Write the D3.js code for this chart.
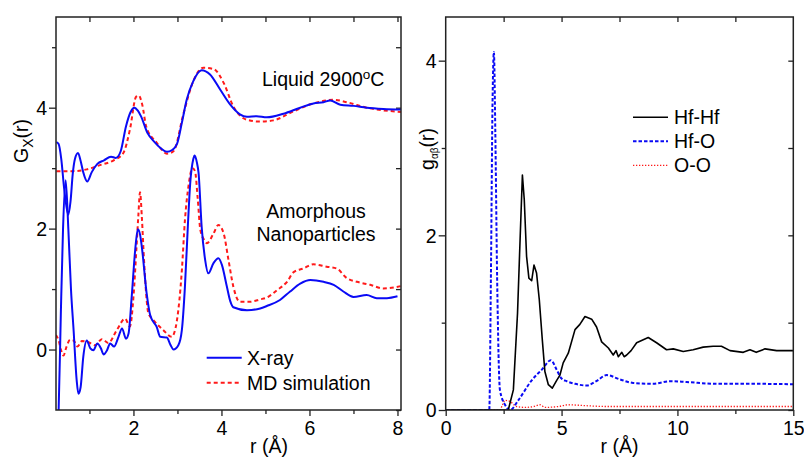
<!DOCTYPE html>
<html><head><meta charset="utf-8">
<script src="https://cdn.jsdelivr.net/npm/d3@7"></script>
<style>body{margin:0;background:#fff}svg{display:block;font-family:"Liberation Sans",Arial,sans-serif}</style>
</head><body><svg id="c" width="804" height="459"></svg>
<script>
// ---------- Left panel data: r (Å) and G_X(r) (plotted values incl. offset) ----------
const liqXrayR=[0.25,0.30,0.36,0.42,0.47,0.52,0.57,0.62,0.67,0.74,0.80,0.86,0.95,1.05,1.18,1.33,1.49,1.60,1.71,1.83,1.93,2.02,2.10,2.17,2.32,2.47,2.62,2.76,2.88,2.99,3.10,3.21,3.36,3.55,3.74,3.97,4.20,4.42,4.58,4.80,5.03,5.41,5.79,6.09,6.32,6.47,6.70,7.00,7.30,7.68,8.08];
const liqXrayG=[3.43,3.40,3.15,2.70,2.40,2.23,2.45,2.90,3.15,3.25,3.12,2.93,2.78,2.93,3.07,3.13,3.19,3.17,3.28,3.69,3.92,4.00,3.95,3.86,3.58,3.44,3.33,3.27,3.30,3.40,3.75,4.13,4.44,4.62,4.55,4.30,4.05,3.89,3.85,3.86,3.84,3.90,4.00,4.07,4.09,4.12,4.05,4.03,4.00,3.98,3.97];
const liqMDR=[0.25,0.60,0.94,1.24,1.55,1.77,1.92,2.06,2.12,2.20,2.29,2.53,2.76,2.91,3.14,3.36,3.59,3.82,4.05,4.27,4.58,4.88,5.18,5.64,6.09,6.55,6.85,7.30,8.08];
const liqMDG=[2.95,2.95,2.98,3.05,3.13,3.25,3.64,4.18,4.20,4.05,3.69,3.42,3.24,3.28,3.91,4.44,4.66,4.64,4.41,4.02,3.80,3.77,3.79,3.94,4.07,4.13,4.09,4.00,3.93];
const nanoXrayR=[0.28,0.30,0.35,0.40,0.46,0.52,0.58,0.64,0.71,0.75,0.80,0.86,0.94,1.02,1.09,1.18,1.26,1.32,1.40,1.47,1.56,1.66,1.74,1.83,1.89,1.96,2.04,2.10,2.15,2.19,2.30,2.38,2.53,2.61,2.76,2.84,2.91,3.02,3.10,3.17,3.24,3.29,3.36,3.39,3.44,3.48,3.55,3.63,3.70,3.82,3.93,4.01,4.12,4.20,4.27,4.58,4.88,5.03,5.33,5.56,5.79,6.02,6.32,6.55,6.77,7.00,7.30,7.53,7.76,8.00];
const nanoXrayG=[-1.3,-1.0,0.6,2.0,2.8,2.0,1.0,0.32,-0.51,-0.73,-0.62,-0.12,0.15,0.02,-0.01,0.10,0.02,-0.08,-0.01,0.10,0.05,0.21,0.35,0.18,0.27,0.87,1.65,1.99,1.90,1.70,0.93,0.57,0.37,0.21,0.20,0.08,0.00,0.07,0.32,1.04,2.10,2.75,3.15,3.21,3.10,2.92,2.03,1.48,1.26,1.43,1.51,1.40,1.05,0.80,0.70,0.65,0.68,0.72,0.82,0.96,1.09,1.15,1.12,1.07,0.96,0.87,0.90,0.85,0.85,0.88];
const nanoMDR=[0.24,0.30,0.36,0.41,0.48,0.56,0.64,0.73,0.83,0.98,1.13,1.28,1.43,1.62,1.81,1.92,2.00,2.07,2.11,2.15,2.19,2.24,2.34,2.45,2.68,2.87,2.99,3.10,3.17,3.25,3.34,3.40,3.46,3.52,3.61,3.67,3.82,3.93,4.05,4.16,4.27,4.42,4.65,4.88,5.03,5.26,5.49,5.64,5.86,6.09,6.39,6.62,6.85,7.08,7.38,7.68,8.08];
const nanoMDG=[0.24,0.15,-0.02,-0.10,0.05,0.16,0.15,0.05,0.14,0.12,0.07,0.17,0.11,0.32,0.51,0.38,0.87,1.70,2.20,2.60,2.20,1.48,0.60,0.49,0.32,0.21,0.49,1.31,2.14,2.70,3.00,2.95,2.50,1.98,1.81,1.76,1.92,2.06,1.92,1.48,1.04,0.79,0.79,0.83,0.86,0.98,1.12,1.28,1.34,1.41,1.37,1.34,1.18,1.12,1.07,1.01,1.05];
// ---------- Right panel data: partial pair distribution functions ----------
const hfhfR=[0,2.70,2.92,3.10,3.21,3.31,3.39,3.49,3.59,3.71,3.81,3.92,4.04,4.17,4.28,4.43,4.60,4.79,4.93,5.07,5.29,5.58,5.79,6.01,6.30,6.51,6.73,7.02,7.23,7.35,7.45,7.60,7.70,7.81,8.00,8.24,8.74,9.10,9.53,9.82,10.25,10.68,11.11,11.54,11.90,12.27,12.84,13.13,13.40,13.78,14.28,15.0];
const hfhfG=[0,0,0.23,1.11,1.95,2.69,2.41,1.76,1.51,1.48,1.66,1.57,1.26,0.80,0.44,0.29,0.25,0.34,0.40,0.54,0.65,0.92,0.98,1.07,1.04,0.95,0.78,0.71,0.63,0.68,0.61,0.66,0.61,0.63,0.68,0.77,0.83,0.77,0.69,0.70,0.67,0.69,0.72,0.73,0.73,0.68,0.66,0.69,0.66,0.70,0.68,0.68];
const hfoR=[0,1.88,1.95,2.02,2.08,2.14,2.22,2.34,2.56,2.78,3.13,3.71,4.14,4.54,4.79,5.00,5.22,5.58,6.08,6.50,6.95,7.52,8.09,8.96,9.68,10.4,11.7,13.2,15.0];
const hfoG=[0,0,1.5,3.5,4.10,3.2,1.5,0.23,0.06,0.0,0.11,0.34,0.46,0.57,0.46,0.36,0.33,0.30,0.28,0.33,0.40,0.35,0.31,0.30,0.33,0.32,0.30,0.30,0.295];
const ooR=[0,2.34,2.45,2.56,2.77,2.90,3.06,3.42,3.80,4.07,4.28,4.86,5.29,6.0,7.0,9.0,15.0];
const ooG=[0,0,0.06,0.11,0.10,0.07,0.04,0.03,0.04,0.06,0.03,0.04,0.06,0.05,0.04,0.04,0.04];
// ---------- ticks ----------
const lxMajor=[2,4,6,8], lxMinor=[1,3,5,7], lxTop=[1,2,3,4,5,6,7,8];
const lyMajor=[0,2,4], lyMinor=[1,3,5], lyRight=[-1,0,1,2,3,4,5];
const rxMajor=[0,5,10,15], rxMinor=[2.5,7.5,12.5], rxTop=[2.5,5,7.5,10,12.5];
const ryMajor=[0,2,4], ryMinor=[1,3], ryRight=[0,1,2,3,4];

const svg=d3.select("#c");
const FONT=19.5;
const BLUE="#0a0af5", RED="#ff1a1a";

function panel(cfg){
  const {x,y,id}=cfg;
  const [x0,x1]=x.range(), [y0,y1]=y.range();
  svg.append("clipPath").attr("id",id).append("rect").attr("x",x0).attr("y",y1).attr("width",x1-x0).attr("height",y0-y1);
  const gb=svg.append("g").attr("transform",`translate(0,${y0})`);
  gb.call(d3.axisBottom(x).tickValues(cfg.xMajor).tickSize(6).tickFormat(d3.format("d")));
  const gbm=svg.append("g").attr("transform",`translate(0,${y0})`);
  gbm.call(d3.axisBottom(x).tickValues(cfg.xMinor).tickSize(4).tickFormat(""));
  const gt=svg.append("g").attr("transform",`translate(0,${y1})`);
  gt.call(d3.axisTop(x).tickValues(cfg.xTop).tickSize(-5).tickFormat(""));
  const gl=svg.append("g").attr("transform",`translate(${x0},0)`);
  gl.call(d3.axisLeft(y).tickValues(cfg.yMajor).tickSize(7).tickFormat(d3.format("d")));
  const glm=svg.append("g").attr("transform",`translate(${x0},0)`);
  glm.call(d3.axisLeft(y).tickValues(cfg.yMinor).tickSize(4).tickFormat(""));
  const gr=svg.append("g").attr("transform",`translate(${x1},0)`);
  gr.call(d3.axisRight(y).tickValues(cfg.yRight).tickSize(-5).tickFormat(""));
  [gb,gbm,gt,gl,glm,gr].forEach(g=>{
    g.select(".domain").remove();
    g.selectAll(".tick line").attr("stroke","#222").attr("stroke-width",1.3);
    g.selectAll("text").attr("font-size",FONT).attr("fill","#000").attr("font-family","'Liberation Sans',Arial,sans-serif");
  });
  gb.selectAll("text").attr("dy","0.9em").attr("y",7);
  gl.selectAll("text").attr("x",-9).attr("dy","0.35em");
  cfg.series.forEach(s=>{
    const pts=s.r.map((r,i)=>[r,s.g[i]]);
    svg.append("path").attr("clip-path",`url(#${id})`)
      .attr("d",d3.line().x(d=>x(d[0])).y(d=>y(d[1])).curve(s.curve||d3.curveMonotoneX)(pts))
      .attr("fill","none").attr("stroke",s.color).attr("stroke-width",s.w)
      .attr("stroke-dasharray",s.dash||null).attr("stroke-linejoin","round");
  });
  svg.append("rect").attr("x",x0).attr("y",y1).attr("width",x1-x0).attr("height",y0-y1)
    .attr("fill","none").attr("stroke","#222").attr("stroke-width",1.5);
}

const xL=d3.scaleLinear().domain([0.24,8.08]).range([56,401]);
const yL=d3.scaleLinear().domain([-1,5.5]).range([410,17]);
const xR=d3.scaleLinear().domain([0,15]).range([445.7,793.3]);
const yR=d3.scaleLinear().domain([0,4.5]).range([410,17]);

panel({id:"clipL",x:xL,y:yL,xMajor:lxMajor,xMinor:lxMinor,xTop:lxTop,yMajor:lyMajor,yMinor:lyMinor,yRight:lyRight,
  series:[
    {r:liqMDR,g:liqMDG,color:RED,w:2,dash:"4,3"},
    {r:liqXrayR,g:liqXrayG,color:BLUE,w:2},
    {r:nanoMDR,g:nanoMDG,color:RED,w:2,dash:"4,3"},
    {r:nanoXrayR,g:nanoXrayG,color:BLUE,w:2}
  ]});
panel({id:"clipR",x:xR,y:yR,xMajor:rxMajor,xMinor:rxMinor,xTop:rxTop,yMajor:ryMajor,yMinor:ryMinor,yRight:ryRight,
  series:[
    {r:ooR,g:ooG,color:RED,w:1.3,dash:"1.3,1.7"},
    {r:hfoR,g:hfoG,color:BLUE,w:2,dash:"3.5,2"},
    {r:hfhfR,g:hfhfG,color:"#000",w:1.6,curve:d3.curveLinear}
  ]});

function txt(x,y,s,opt={}){
  return svg.append("text").attr("x",x).attr("y",y).attr("font-size",opt.size||FONT)
    .attr("text-anchor",opt.anchor||"start").attr("fill","#000").text(s);
}
const liq=txt(262,86,"Liquid 2900");
liq.append("tspan").attr("dy",-7).attr("font-size",13.5).text("o");
liq.append("tspan").attr("dy",7).text("C");
txt(316,218,"Amorphous",{anchor:"middle"});
txt(316,241,"Nanoparticles",{anchor:"middle"});
const legL=[{t:"X-ray",c:BLUE,d:null},{t:"MD simulation",c:RED,d:"4,3"}];
legL.forEach((l,i)=>{
  const yy=357.7+i*25;
  svg.append("line").attr("x1",206.7).attr("x2",241.7).attr("y1",yy).attr("y2",yy)
    .attr("stroke",l.c).attr("stroke-width",2).attr("stroke-dasharray",l.d);
  txt(247,yy+7,l.t);
});
const legR=[{t:"Hf-Hf",c:"#000",d:null,w:1.6},{t:"Hf-O",c:BLUE,d:"3.5,2",w:2},{t:"O-O",c:RED,d:"1.3,1.7",w:1.3}];
legR.forEach((l,i)=>{
  const yy=117.3+i*24;
  svg.append("line").attr("x1",633).attr("x2",668).attr("y1",yy).attr("y2",yy)
    .attr("stroke",l.c).attr("stroke-width",l.w).attr("stroke-dasharray",l.d);
  txt(674,yy+7,l.t);
});
txt(269,453,"r (Å)",{anchor:"middle"});
txt(619.5,453,"r (Å)",{anchor:"middle"});
const gy=svg.append("text").attr("transform","translate(28,141) rotate(-90)").attr("text-anchor","middle").attr("font-size",FONT);
gy.append("tspan").text("G");
gy.append("tspan").attr("dy",5).attr("font-size",14).text("X");
gy.append("tspan").attr("dy",-5).text("(r)");
const gr2=svg.append("text").attr("transform","translate(434,149) rotate(-90)").attr("text-anchor","middle").attr("font-size",FONT);
gr2.append("tspan").text("g");
gr2.append("tspan").attr("dy",4).attr("font-size",10).text("αβ");
gr2.append("tspan").attr("dy",-4).text("(r)");
</script></body></html>
